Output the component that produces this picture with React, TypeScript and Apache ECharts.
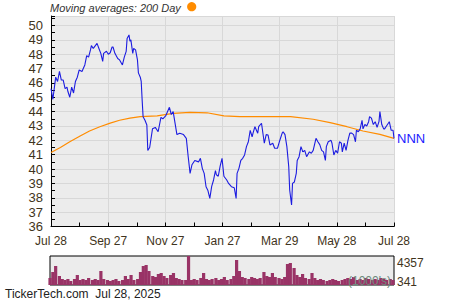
import { useEffect, useRef } from "react";
import * as echarts from "echarts";

// ---- data ----
const xTickLabels = ["Jul 28", "Sep 27", "Nov 27", "Jan 27", "Mar 29", "May 28", "Jul 28"];
const tickerName = "NNN";
const legendText = "Moving averages: 200 Day";
const footerText = "TickerTech.com  Jul 28, 2025";
const volumeLabels = ["4357", "341"];
const volumeUnitText = "(1000's)";

// [day since Jul 28 2024, close]
const priceSeries: [number, number][] = [
  [0, 45.6], [2, 44.86], [5, 46.4], [7, 46.1], [9, 46.8], [11, 46.2], [13, 46.2], [15, 45.6], [17, 45.7], [18, 45.4],
  [20, 45.0], [22, 45.7], [24, 45.3], [26, 46.1], [28, 46.4], [30, 46.9], [33, 46.8], [34, 46.95], [36, 47.25], [38, 47.9],
  [40, 47.8], [42, 48.3], [43, 48.6], [45, 48.4], [49, 48.75], [51, 48.4], [53, 48.06], [55, 47.5], [56, 48.06], [59, 48.2],
  [61, 48.0], [63, 48.1], [65, 48.5], [66, 48.5], [68, 48.06], [71, 47.7], [73, 47.6], [76, 47.25], [78, 47.8], [80, 48.2],
  [81, 49.1], [83, 49.34], [84, 48.9], [85, 49.0], [87, 48.06], [88, 48.4], [90, 48.3], [92, 47.6], [93, 46.7], [95, 46.4],
  [96, 46.1], [97, 44.8], [98, 43.65], [100, 43.4], [102, 43.07], [103, 41.3], [105, 41.5], [108, 42.8], [111, 42.9], [114, 42.6],
  [117, 43.6], [119, 43.5], [122, 43.7], [126, 44.3], [128, 43.8], [130, 44.0], [132, 43.2], [134, 42.4], [137, 42.5], [141, 42.4],
  [144, 42.14], [146, 40.86], [148, 39.7], [150, 40.3], [153, 40.6], [157, 40.5], [159, 40.75], [161, 40.05], [163, 39.7], [165, 38.77],
  [167, 38.5], [169, 37.96], [171, 38.8], [173, 39.24], [175, 39.9], [176, 39.6], [178, 39.5], [180, 40.2], [182, 40.75], [184, 39.5],
  [187, 39.24], [189, 39.0], [192, 38.77], [195, 38.7], [197, 37.96], [198, 39.7], [200, 40.05], [202, 40.6], [204, 40.75], [206, 40.98],
  [208, 41.56], [210, 41.9], [212, 42.7], [214, 42.25], [215, 42.5], [217, 42.95], [220, 42.5], [221, 42.95], [224, 43.19], [227, 41.8],
  [229, 42.4], [231, 42.37], [233, 41.68], [236, 41.8], [238, 41.45], [241, 41.45], [243, 41.9], [246, 42.5], [247, 42.6], [249, 42.4],
  [251, 41.56], [253, 40.16], [254, 38.54], [256, 37.5], [257, 39.0], [259, 39.1], [261, 39.7], [262, 40.6], [264, 40.86], [266, 41.56],
  [268, 41.2], [270, 41.3], [272, 40.86], [275, 41.2], [277, 41.1], [279, 41.3], [282, 42.14], [284, 41.9], [286, 41.7], [288, 41.3],
  [290, 41.2], [292, 40.6], [293, 41.56], [295, 41.9], [298, 42.0], [299, 41.8], [301, 40.98], [303, 41.3], [305, 41.1], [307, 41.9],
  [309, 41.8], [310, 41.2], [312, 41.8], [314, 41.3], [316, 42.0], [318, 42.5], [320, 42.5], [322, 42.4], [324, 41.9], [325, 42.7],
  [327, 42.6], [329, 42.8], [331, 43.4], [332, 42.8], [334, 43.1], [336, 43.0], [338, 43.3], [339, 43.65], [341, 43.55], [343, 43.1],
  [345, 43.3], [347, 42.9], [349, 43.3], [350, 44.0], [352, 43.1], [354, 42.8], [355, 42.8], [357, 43.0], [360, 43.3], [362, 42.7],
  [364, 42.7], [365, 42.14],
];

// [day, 200-day moving average]
const ma200Series: [number, number][] = [
  [0, 41.15], [10, 41.5], [20, 41.9], [31, 42.3], [41, 42.65], [52, 42.95], [63, 43.2], [73, 43.4], [84, 43.55], [95, 43.65],
  [113, 43.7], [130, 43.88], [148, 43.95], [166, 43.92], [184, 43.7], [201, 43.65], [255, 43.65], [279, 43.47], [297, 43.23],
  [315, 42.95], [332, 42.65], [350, 42.42], [365, 42.14],
];

// [day, volume in 1000's]
const volumeSeries: [number, number][] = [
  [0, 1311], [3, 2142], [6, 2973], [10, 1588], [13, 1172], [16, 1034], [19, 1172], [22, 895], [26, 1172], [29, 1726],
  [32, 1034], [35, 1172], [38, 1034], [41, 1311], [45, 1034], [48, 1172], [51, 1034], [54, 2280], [57, 1172], [61, 1034],
  [64, 895], [67, 1034], [70, 1172], [73, 895], [77, 1034], [80, 1588], [83, 1172], [86, 1726], [89, 1034], [93, 1172],
  [96, 2142], [99, 2973], [102, 3111], [105, 2280], [109, 1588], [112, 1449], [115, 1865], [118, 2003], [121, 1588], [124, 1311],
  [128, 1726], [131, 2003], [134, 1311], [137, 1172], [140, 1034], [144, 1034], [147, 4357], [150, 1034], [153, 1172], [156, 1034],
  [160, 1311], [163, 2003], [166, 1172], [169, 1034], [172, 1172], [176, 1311], [179, 1034], [182, 1172], [185, 1449], [188, 1034],
  [192, 1172], [195, 1588], [198, 3804], [201, 2280], [204, 1449], [207, 1311], [211, 1172], [214, 1449], [217, 1311], [220, 1172],
  [223, 1311], [227, 2142], [230, 1588], [233, 1449], [236, 2003], [239, 1449], [243, 1311], [246, 1172], [249, 1449], [252, 3250],
  [255, 3388], [259, 2696], [262, 1726], [265, 1449], [268, 1865], [271, 1311], [275, 1172], [278, 2003], [281, 1311], [284, 1034],
  [287, 1172], [290, 1034], [294, 895], [297, 1034], [300, 1172], [303, 1034], [306, 895], [310, 1034], [313, 1172], [316, 1311],
  [319, 1172], [322, 1449], [326, 1034], [329, 1172], [332, 1034], [335, 1311], [338, 1172], [342, 1034], [345, 1172], [348, 1034],
  [351, 1311], [354, 1172], [357, 1034], [361, 1172], [364, 1034],
];

const DAYS_PER_YEAR = 365;
const toMonths = (d: number) => (d * 12) / DAYS_PER_YEAR;

const LABEL_COLOR = "#3f3420";
const FONT = "'Liberation Sans', Arial, sans-serif";

export default function App() {
  const ref = useRef<HTMLDivElement>(null);

  useEffect(() => {
    if (!ref.current) return;
    const chart = echarts.init(ref.current, undefined, { renderer: "svg" });

    const option: any = {
      animation: false,
      textStyle: { fontFamily: FONT },
      grid: [
        { left: 51, top: 16, width: 343, height: 210.5, show: true, backgroundColor: "#ececec", borderWidth: 0 },
        { left: 50, top: 256, width: 344, height: 29, show: true, backgroundColor: "#ececec", borderColor: "#000", borderWidth: 1 },
      ],
      xAxis: [
        {
          type: "value",
          gridIndex: 0,
          min: 0,
          max: 12,
          interval: 2,
          axisLine: { show: true, onZero: false, lineStyle: { color: "#000", width: 1 } },
          axisTick: { show: true, inside: true, length: 4, lineStyle: { color: "#000" } },
          minorTick: { show: true, splitNumber: 2, length: 4, lineStyle: { color: "#000" } },
          splitLine: { show: true, lineStyle: { color: "#d8d8d8", width: 1 } },
          axisLabel: {
            color: LABEL_COLOR,
            fontSize: 12,
            lineHeight: 13,
            fontFamily: FONT,
            margin: 8,
            formatter: (v: number) => xTickLabels[Math.round(v / 2)] ?? "",
          },
        },
        { type: "value", gridIndex: 1, min: 0, max: 12, show: false },
      ],
      yAxis: [
        {
          type: "value",
          gridIndex: 0,
          min: 36,
          max: 50.66,
          interval: 1,
          axisLine: { show: true, onZero: false, lineStyle: { color: "#000", width: 1 } },
          axisTick: { show: true, inside: true, length: 4, lineStyle: { color: "#000" } },
          minorTick: { show: true, splitNumber: 2, length: 4, lineStyle: { color: "#000" } },
          splitLine: { show: true, lineStyle: { color: "#d8d8d8", width: 1 } },
          axisLabel: {
            color: LABEL_COLOR,
            fontSize: 13,
            lineHeight: 12,
            fontFamily: FONT,
            margin: 8,
            formatter: (v: number) => (Number.isInteger(v) ? String(v) : ""),
          },
        },
        {
          type: "value",
          gridIndex: 1,
          min: 341,
          max: 4357,
          axisLine: { show: false },
          axisTick: { show: false },
          splitLine: { show: false },
          axisLabel: { show: false },
        },
      ],
      series: [
        {
          type: "line",
          name: "MA200",
          xAxisIndex: 0,
          yAxisIndex: 0,
          data: ma200Series.map(([d, v]) => [toMonths(d), v]),
          symbol: "none",
          lineStyle: { color: "#ff8c00", width: 1.2 },
          z: 3,
        },
        {
          type: "line",
          name: tickerName,
          xAxisIndex: 0,
          yAxisIndex: 0,
          data: priceSeries.map(([d, v]) => [toMonths(d), v]),
          symbol: "none",
          lineStyle: { color: "#1c1ce0", width: 1.1 },
          z: 4,
          endLabel: {
            show: true,
            formatter: tickerName,
            color: "#1a1aff",
            fontSize: 13,
            fontFamily: FONT,
            distance: 3,
          },
        },
        {
          type: "bar",
          name: "Volume",
          xAxisIndex: 1,
          yAxisIndex: 1,
          data: volumeSeries.map(([d, v]) => [toMonths(d), v]),
          barWidth: 3.2,
          clip: true,
          itemStyle: { color: "#993366" },
        },
      ],
      graphic: [
        {
          type: "text",
          x: 50,
          y: 7.5,
          style: {
            text: legendText,
            fill: "#333",
            font: `italic 11px ${FONT}`,
            verticalAlign: "middle",
          },
        },
        { type: "circle", shape: { cx: 191.7, cy: 6.7, r: 4.6 }, style: { fill: "#ff8c00" } },
        {
          type: "text",
          x: 397,
          y: 263,
          style: { text: volumeLabels[0], fill: LABEL_COLOR, font: `12px ${FONT}`, verticalAlign: "middle" },
        },
        {
          type: "text",
          x: 397,
          y: 282,
          style: { text: volumeLabels[1], fill: LABEL_COLOR, font: `12px ${FONT}`, verticalAlign: "middle" },
        },
        {
          type: "text",
          x: 391,
          y: 281,
          z: 10,
          style: { text: volumeUnitText, fill: "#6d8a7c", font: `12px ${FONT}`, align: "right", verticalAlign: "middle" },
        },
        {
          type: "text",
          x: 5,
          y: 294,
          style: { text: footerText, fill: "#222", font: `12px ${FONT}`, verticalAlign: "middle" },
        },
      ],
    };

    chart.setOption(option);
    return () => chart.dispose();
  }, []);

  return (
    <div
      ref={ref}
      style={{ position: "absolute", left: 0, top: 0, width: 450, height: 300, background: "#fff" }}
    />
  );
}
